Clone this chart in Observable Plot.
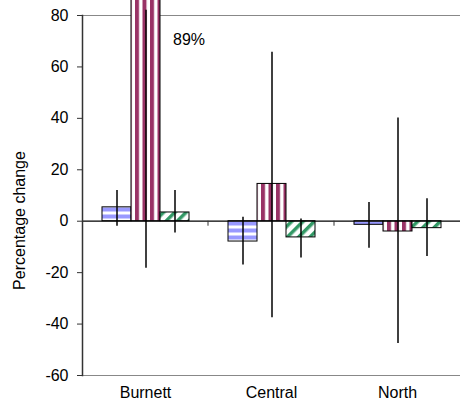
<!DOCTYPE html>
<html>
<head>
<meta charset="utf-8">
<script src="https://cdn.jsdelivr.net/npm/d3@7"></script>
<script src="https://cdn.jsdelivr.net/npm/@observablehq/plot@0.6"></script>
<style>
  html, body { margin: 0; padding: 0; background: #fff; }
  #defs { position: absolute; width: 0; height: 0; }
</style>
</head>
<body>
<svg id="defs" width="0" height="0">
  <defs>
    <pattern id="p-blue" patternUnits="userSpaceOnUse" width="8" height="7">
      <rect width="8" height="7" fill="#ffffff"/>
      <rect y="4.5" width="8" height="2.5" fill="#9999ff"/>
      <rect y="0" width="8" height="1.5" fill="#9999ff"/>
    </pattern>
    <pattern id="p-purple" patternUnits="userSpaceOnUse" width="7.5" height="8">
      <rect width="7.5" height="8" fill="#ffffff"/>
      <rect x="0" width="4" height="8" fill="#993366"/>
    </pattern>
    <pattern id="p-green" patternUnits="userSpaceOnUse" width="8" height="8" patternTransform="rotate(45)">
      <rect width="8" height="8" fill="#ffffff"/>
      <rect x="0" width="3.5" height="8" fill="#339966"/>
    </pattern>
  </defs>
</svg>
<div id="chart"></div>
<script>
const categories = ["Burnett", "Central", "North"];
const series = ["Series 1", "Series 2", "Series 3"];

const series1 = [5.4, -7.9, -1.4];
const series2 = [89, 14.5, -4.0];
const series3 = [3.4, -6.3, -2.7];

const errLow1 = [-2.0, -17.0, -10.5];
const errHigh1 = [11.9, 1.5, 7.3];
const errLow2 = [-18.3, -37.5, -47.6];
const errHigh2 = [82, 65.7, 40.1];
const errLow3 = [-4.6, -14.3, -13.7];
const errHigh3 = [11.9, 0.9, 8.7];

const yTicks = [-60, -40, -20, 0, 20, 40, 60, 80];
const yTitle = ["Percentage change"];
const patternFills = ["url(#p-blue)", "url(#p-purple)", "url(#p-green)"];

const values = [series1, series2, series3];
const lows = [errLow1, errLow2, errLow3];
const highs = [errHigh1, errHigh2, errHigh3];

const rows = categories.flatMap((c, i) => series.map((s, j) => ({
  category: c, series: s, value: values[j][i], low: lows[j][i], high: highs[j][i]
})));

const yMax = 80, yMin = -60;

const chart = Plot.plot({
  width: 460,
  height: 410,
  marginLeft: 82,
  marginRight: 0,
  marginTop: 15,
  marginBottom: 35,
  style: { fontFamily: "'Liberation Sans', Arial, sans-serif", fontSize: "16px", color: "#000", background: "#fff" },
  fx: { domain: categories, padding: 0, label: null },
  x: { domain: series, paddingInner: 0, paddingOuter: 0.672, axis: null },
  y: { domain: [yMin, yMax], label: null },
  color: { type: "ordinal", domain: series, range: patternFills },
  marks: [
    Plot.ruleY([yMax, yMin], { stroke: "#888", strokeWidth: 1 }),
    Plot.barY(rows, { fx: "category", x: "series", y1: 0, y2: "value", fill: "series", stroke: "#000", strokeWidth: 1 }),
    Plot.ruleY([0], { stroke: "#000", strokeWidth: 1.2 }),
    Plot.ruleX(rows, { fx: "category", x: "series", y1: "low", y2: "high", stroke: "#000", strokeWidth: 1.5 }),
    Plot.text(rows.filter(d => d.value > yMax), {
      fx: "category", x: "series", text: d => `${d.value}%`,
      frameAnchor: "top", dy: 18, dx: 27, textAnchor: "start", fill: "#000", fontSize: 16
    }),
    Plot.frame({ anchor: "left", facetAnchor: "left", stroke: "#333", strokeWidth: 1.5 }),
    Plot.axisY({
      ticks: yTicks, tickFormat: d => String(d), tickSize: 5, tickPadding: 9, fontSize: 16,
      stroke: "#333", label: null
    }),
    Plot.text(yTitle, {
      text: d => d, frameAnchor: "left", facetAnchor: "left", rotate: -90,
      textAnchor: "middle", lineAnchor: "middle",
      dx: -63, dy: 25, fontSize: 16, fill: "#000"
    }),
    Plot.axisFx({ anchor: "bottom", tickSize: 0, tickPadding: 11, fontSize: 16, label: null })
  ]
});

document.getElementById("chart").appendChild(chart);

// small ticks between categories on the zero line, placed with Plot's own scales
const fxS = chart.scale("fx");
const yS = chart.scale("y");
const g = d3.select(chart).append("g").attr("stroke", "#333").attr("stroke-width", 1);
categories.slice(1).forEach(c => {
  const x = fxS.apply(c);
  const y0 = yS.apply(0);
  g.append("line").attr("x1", x).attr("x2", x).attr("y1", y0).attr("y2", y0 + 5);
});
</script>
</body>
</html>
